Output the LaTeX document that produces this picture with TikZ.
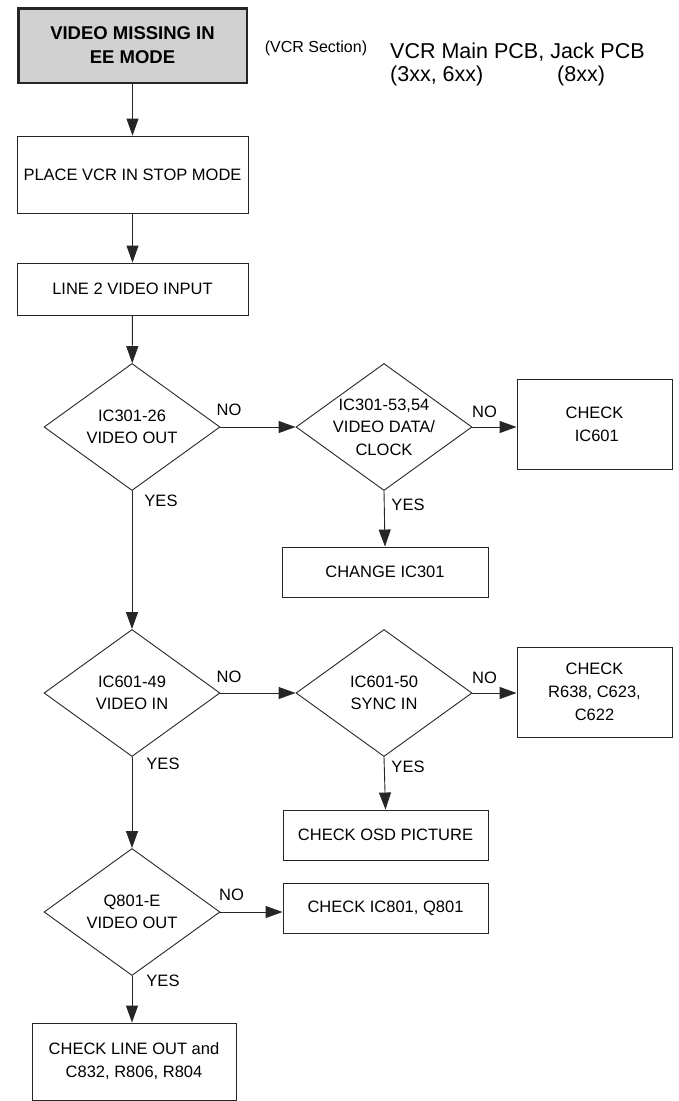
\documentclass[tikz,border=0pt]{standalone}
\usepackage{fontspec}
\setmainfont{Liberation Sans}
\usetikzlibrary{shapes.geometric,arrows.meta}

\tikzset{
    box/.style={draw=black!85, line width=0.9pt, rectangle, inner sep=0pt,
        align=center, font=\fontsize{16.5}{23}\selectfont},
    dec/.style={draw=black!85, line width=0.9pt, diamond, inner sep=0pt,
        minimum width=176pt, minimum height=127pt},
    dectext/.style={align=center, inner sep=0pt, font=\fontsize{16.5}{22.5}\selectfont},
    lbl/.style={inner sep=0pt, font=\fontsize{16.5}{20}\selectfont},
    arr/.style={draw=black!85, line width=0.9pt, -{Triangle[length=17pt,width=12pt]}},
    ln/.style={draw=black!85, line width=0.9pt}
}

\begin{document}
\begin{tikzpicture}[x=1pt, y=-1pt]
    \useasboundingbox (0,0) rectangle (679,1101);

    \node[box, fill=black!18, line width=2.5pt, minimum width=228.5pt, minimum height=74.5pt,
        font=\fontsize{18.5}{24}\bfseries\selectfont] (start) at (132.5,45.5)
        {VIDEO MISSING IN\\EE MODE};
    \node[lbl, font=\fontsize{16}{20}\selectfont] (section) at (316,48) {(VCR Section)};
    \node[lbl, anchor=west, font=\fontsize{21.5}{24}\selectfont] (pcb) at (390,52)
        {VCR Main PCB, Jack PCB};
    \node[lbl, anchor=west, font=\fontsize{21.5}{24}\selectfont] (main) at (390,76) {(3xx, 6xx)};
    \node[lbl, anchor=west, font=\fontsize{21.5}{24}\selectfont] (jack) at (557,76) {(8xx)};

    \node[box, minimum width=231pt, minimum height=77pt] (stop) at (132.5,174.5)
        {PLACE VCR IN STOP MODE};
    \node[box, minimum width=231pt, minimum height=52pt] (input) at (132.5,289)
        {LINE 2 VIDEO INPUT};

    \node[dec] (vout) at (132,427) {};
    \node[dectext] at (vout) {IC301-26\\VIDEO OUT};
    \node[dec] (vdata) at (384,427) {};
    \node[dectext] at (vdata) {IC301-53,54\\VIDEO DATA/\\CLOCK};
    \node[box, minimum width=155pt, minimum height=90pt] (chkic) at (594.5,424)
        {CHECK\\\ IC601};
    \node[box, minimum width=206pt, minimum height=50pt] (change) at (385,572)
        {CHANGE IC301};

    \node[dec] (vin) at (132,693) {};
    \node[dectext] at (vin) {IC601-49\\VIDEO IN};
    \node[dec] (sync) at (384,693) {};
    \node[dectext] at (sync) {IC601-50\\SYNC IN};
    \node[box, minimum width=155pt, minimum height=90pt] (chkr) at (594.5,692)
        {CHECK\\R638, C623,\\C622};
    \node[box, minimum width=205pt, minimum height=50pt] (osd) at (385.5,835)
        {CHECK OSD PICTURE};

    \node[dec] (qout) at (132,912) {};
    \node[dectext] at (qout) {Q801-E\\VIDEO OUT};
    \node[box, minimum width=205pt, minimum height=50pt] (chkq) at (385.5,908)
        {CHECK IC801, Q801};
    \node[box, minimum width=204pt, minimum height=77pt] (lineout) at (134,1061.5)
        {CHECK LINE OUT and\\C832, R806, R804};

    \draw[arr] (start) -- (stop);
    \draw[arr] (stop) -- (input);
    \draw[arr] (input) -- (vout);
    \draw[arr] (vout.east) -- (vdata.west);
    \draw[arr] (vdata.east) -- (vdata.east -| chkic.west);
    \draw[arr] (vdata.south) -- (change.north);
    \draw[arr] (vout.south) -- (vin.north);
    \draw[arr] (vin.east) -- (sync.west);
    \draw[arr] (sync.east) -- (sync.east -| chkr.west);
    \draw[arr] (sync.south) -- (osd.north);
    \draw[arr] (vin.south) -- (qout.north);
    \draw[arr] (qout.east) -- (qout.east -| chkq.west);
    \draw[arr] (qout.south) -- (qout.south |- lineout.north);

    \node[lbl] (no1) at (229,410) {NO};
    \node[lbl] (no2) at (484.5,412) {NO};
    \node[lbl] (no3) at (229,677) {NO};
    \node[lbl] (no4) at (484.5,678) {NO};
    \node[lbl] (no5) at (231.5,895) {NO};
    \node[lbl] (yes1) at (161,501) {YES};
    \node[lbl] (yes2) at (408,505) {YES};
    \node[lbl] (yes3) at (163,764) {YES};
    \node[lbl] (yes4) at (408,767) {YES};
    \node[lbl] (yes5) at (163,981) {YES};
\end{tikzpicture}
\end{document}
